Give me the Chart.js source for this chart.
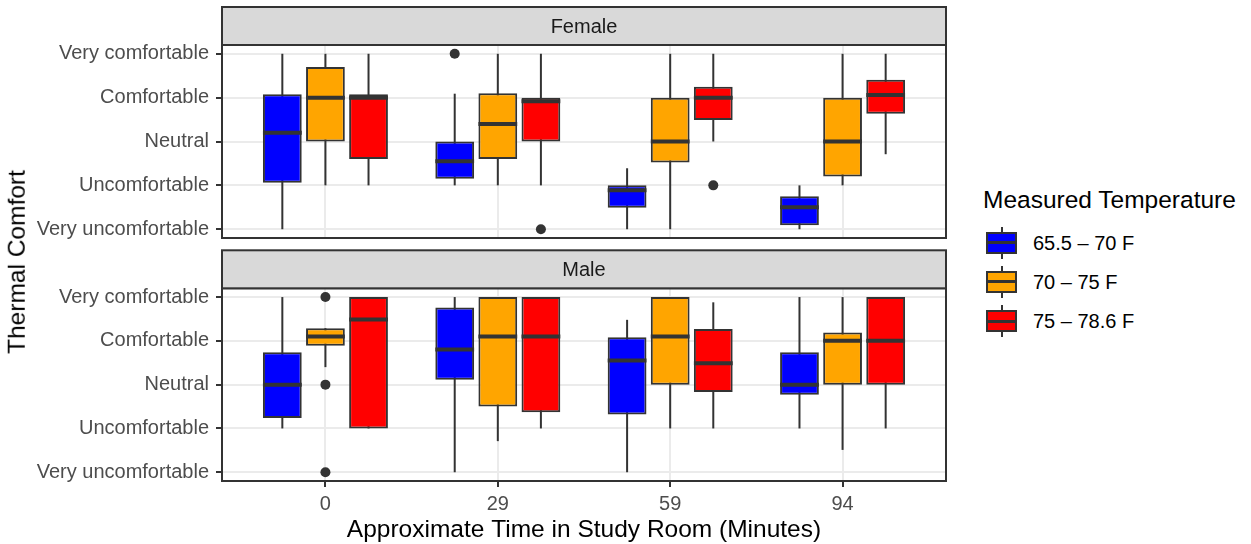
<!DOCTYPE html>
<html>
<head>
<meta charset="utf-8">
<script src="https://cdn.jsdelivr.net/npm/chart.js@4"></script>
<style>
  body { margin: 0; background: #fff; font-family: 'Liberation Sans', Arial, sans-serif; }
  #page { position: relative; width: 1251px; height: 544px; overflow: hidden; background: #fff; }
  .panel { position: absolute; left: 0; width: 960px; }
  #ytitle {
    position: absolute; left: 16.5px; top: 262px; font-size: 24.5px; line-height: 1;
    white-space: nowrap; color: #000; transform: translate(-50%, -50%) rotate(-90deg);
  }
  #legend-title { position: absolute; left: 983px; top: 188px; font-size: 24.5px; line-height: 1; color: #000; white-space: nowrap; }
  .key { position: absolute; left: 986px; width: 31px; height: 32px; }
  .key .whisker { position: absolute; left: 14.5px; top: 0; width: 2px; height: 32px; background: #333; }
  .key .box { position: absolute; left: 0; top: 5px; width: 31px; height: 22px; box-sizing: border-box; border: 2px solid #333; }
  .key .med { position: absolute; left: 0; top: 14.5px; width: 31px; height: 3px; background: #333; }
  .key-label { position: absolute; left: 1033px; font-size: 20px; line-height: 1; color: #000; white-space: nowrap; }
</style>
</head>
<body>
<div id="page">
  <div class="panel" style="top:0;height:240px"><canvas id="female"></canvas></div>
  <div class="panel" style="top:248px;height:296px"><canvas id="male"></canvas></div>
  <div id="ytitle">Thermal Comfort</div>
  <div id="legend-title">Measured Temperature</div>
</div>
<script>
// categories
const times = ['0', '29', '59', '94'];
const groups = ['65.5 \u2013 70 F', '70 \u2013 75 F', '75 \u2013 78.6 F'];
const colors = ['#0000FF', '#FFA500', '#FF0000'];
const comfortLabels = ['Very uncomfortable', 'Uncomfortable', 'Neutral', 'Comfortable', 'Very comfortable'];

// box stats per time: [lower whisker, q1, median, q3, upper whisker]
const femaleCool = [[1, 2.06, 3.2, 4.08, 5], [2, 2.15, 2.55, 3, 4.09], [1, 1.49, 1.89, 2, 2.39], [1, 1.09, 1.5, 1.75, 2]];
const femaleMid  = [[2, 3, 4, 4.7, 5], [2, 2.6, 3.4, 4.1, 5], [1, 2.52, 3, 4, 5], [2, 2.2, 3, 4, 5]];
const femaleWarm = [[2, 2.6, 4, 4.08, 5], [2, 3, 3.92, 4, 5], [3, 3.49, 4, 4.25, 5], [2.71, 3.63, 4.06, 4.41, 5]];
// outliers: [time index, group index, value]
const femaleOutliers = [[1, 0, 5], [1, 2, 1], [2, 2, 2]];

const maleCool = [[2, 2.24, 3, 3.74, 5], [1, 3.11, 3.8, 4.76, 5], [1, 2.32, 3.55, 4.08, 4.48], [2, 2.77, 3, 3.74, 5]];
const maleMid  = [[3.4, 3.89, 4.1, 4.29, 4.29], [1.71, 2.5, 4.1, 5, 5], [2, 3, 4.1, 5, 5], [1.51, 3, 4, 4.19, 5]];
const maleWarm = [[2, 2, 4.49, 5, 5], [2, 2.37, 4.1, 5, 5], [2, 2.83, 3.49, 4.27, 4.88], [2, 3, 4, 5, 5]];
const maleOutliers = [[0, 1, 5], [0, 1, 3], [0, 1, 1]];

Chart.defaults.font.family = "'Liberation Sans', Arial, sans-serif";

// whiskers behind boxes, medians on top
const boxParts = {
  id: 'boxParts',
  beforeDatasetsDraw(chart) {
    const ctx = chart.ctx, y = chart.scales.y;
    ctx.save();
    ctx.strokeStyle = '#333333';
    ctx.lineWidth = 2;
    chart.data.datasets.forEach((ds, di) => {
      if (!ds.stats) return;
      chart.getDatasetMeta(di).data.forEach((bar, i) => {
        const s = ds.stats[i];
        ctx.beginPath();
        ctx.moveTo(bar.x, y.getPixelForValue(s[0]));
        ctx.lineTo(bar.x, y.getPixelForValue(s[4]));
        ctx.stroke();
      });
    });
    ctx.restore();
  },
  afterDatasetDraw(chart, args) {
    const ds = chart.data.datasets[args.index];
    if (!ds.stats) return;
    const ctx = chart.ctx, y = chart.scales.y;
    ctx.save();
    ctx.strokeStyle = '#333333';
    ctx.lineWidth = 4;
    args.meta.data.forEach((bar, i) => {
      const py = y.getPixelForValue(ds.stats[i][2]);
      ctx.beginPath();
      ctx.moveTo(bar.x - bar.width / 2, py);
      ctx.lineTo(bar.x + bar.width / 2, py);
      ctx.stroke();
    });
    ctx.restore();
  }
};

// panel border and facet strip
const facetFrame = {
  id: 'facetFrame',
  afterDraw(chart, args, opts) {
    const ctx = chart.ctx, a = chart.chartArea;
    const h = opts.stripHeight;
    ctx.save();
    ctx.lineWidth = 2;
    ctx.strokeStyle = '#333333';
    ctx.strokeRect(a.left, a.top, a.right - a.left, a.bottom - a.top);
    ctx.fillStyle = '#d9d9d9';
    ctx.fillRect(a.left, a.top - h, a.right - a.left, h);
    ctx.strokeRect(a.left, a.top - h, a.right - a.left, h);
    ctx.fillStyle = '#1a1a1a';
    ctx.font = "20px 'Liberation Sans', Arial, sans-serif";
    ctx.textAlign = 'center';
    ctx.textBaseline = 'middle';
    ctx.fillText(opts.text, (a.left + a.right) / 2, a.top - h / 2 + 1);
    ctx.restore();
  }
};

function makePanel(id, strip, stats, outliers, showX, padTop) {
  const datasets = groups.map((g, gi) => ({
    label: g,
    data: stats[gi].map((s, ti) => ({ x: ti + 1, y: [s[1], s[3]] })),
    stats: stats[gi],
    backgroundColor: colors[gi],
    borderColor: '#333333',
    borderWidth: 2,
    borderSkipped: false,
    categoryPercentage: 0.75,
    barPercentage: 0.9
  }));
  datasets.push({
    type: 'scatter',
    label: 'outliers',
    order: -1,
    data: outliers.map(o => ({ x: o[0] + 1 + (o[1] - 1) * 0.25, y: o[2] })),
    pointRadius: 5,
    pointBackgroundColor: '#333333',
    pointBorderWidth: 0
  });

  return new Chart(document.getElementById(id), {
    type: 'bar',
    data: { datasets },
    options: {
      responsive: true,
      maintainAspectRatio: false,
      animation: false,
      layout: { autoPadding: false, padding: { top: padTop, left: 0, right: 14, bottom: showX ? 0 : 2 } },
      plugins: {
        legend: { display: false },
        tooltip: { enabled: false },
        facetFrame: { text: strip, stripHeight: 38 }
      },
      scales: {
        x: {
          type: 'linear',
          min: 0.4,
          max: 4.6,
          offset: false,
          afterBuildTicks: s => { s.ticks = [1, 2, 3, 4].map(v => ({ value: v })); },
          afterFit: s => { s.height = showX ? 63 : 0; s.paddingLeft = 0; s.paddingRight = 0; },
          grid: { offset: false, color: '#ebebeb', lineWidth: 2, drawTicks: showX, tickLength: 6, tickColor: '#333333', tickWidth: 2 },
          border: { display: false },
          ticks: {
            display: showX,
            maxRotation: 0,
            padding: 5,
            color: '#4d4d4d',
            font: { size: 20 },
            callback: v => times[v - 1]
          },
          title: {
            display: showX,
            text: 'Approximate Time in Study Room (Minutes)',
            color: '#000',
            font: { size: 24.5 },
            padding: { top: 0, bottom: -1 }
          }
        },
        y: {
          min: 0.8,
          max: 5.2,
          beginAtZero: false,
          afterBuildTicks: s => { s.ticks = [1, 2, 3, 4, 5].map(v => ({ value: v })); },
          afterFit: s => { s.width = 222; s.paddingTop = 0; s.paddingBottom = 0; },
          grid: { color: '#ebebeb', lineWidth: 2, tickLength: 6, tickColor: '#333333', tickWidth: 2 },
          border: { display: false },
          ticks: {
            padding: 7,
            color: '#4d4d4d',
            font: { size: 20 },
            callback: v => comfortLabels[v - 1]
          }
        }
      }
    },
    plugins: [boxParts, facetFrame]
  });
}

makePanel('female', 'Female', [femaleCool, femaleMid, femaleWarm], femaleOutliers, false, 45);
makePanel('male', 'Male', [maleCool, maleMid, maleWarm], maleOutliers, true, 40.3);

// legend
const page = document.getElementById('page');
const keyTops = [226.5, 265.5, 305];
groups.forEach((g, i) => {
  const key = document.createElement('div');
  key.className = 'key';
  key.style.top = keyTops[i] + 'px';
  key.innerHTML = '<div class="whisker"></div><div class="box" style="background:' + colors[i] +
    '"></div><div class="med"></div>';
  page.appendChild(key);
  const lab = document.createElement('div');
  lab.className = 'key-label';
  lab.style.top = (keyTops[i] + 6) + 'px';
  lab.textContent = g;
  page.appendChild(lab);
});
</script>
</body>
</html>
